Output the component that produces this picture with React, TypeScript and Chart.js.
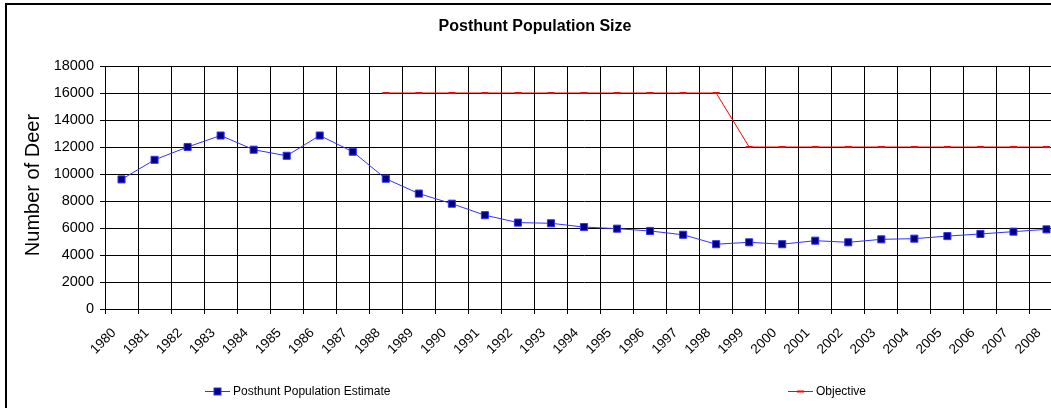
import React, { useEffect, useRef } from 'react';
import { Chart, registerables } from 'chart.js';

Chart.register(...registerables);

const chartTitle = 'Posthunt Population Size';
const yAxisTitle = 'Number of Deer';
const years = [
  '1980', '1981', '1982', '1983', '1984', '1985', '1986', '1987', '1988', '1989',
  '1990', '1991', '1992', '1993', '1994', '1995', '1996', '1997', '1998', '1999',
  '2000', '2001', '2002', '2003', '2004', '2005', '2006', '2007', '2008',
];
const populationLabel = 'Posthunt Population Estimate';
const population = [
  9600, 11050, 12000, 12850, 11800, 11350, 12850, 11650, 9650, 8550,
  7800, 6950, 6400, 6350, 6070, 5950, 5780, 5500, 4800, 4940,
  4800, 5060, 4940, 5160, 5210, 5400, 5560, 5730, 5900,
];
const objectiveLabel = 'Objective';
const objective: (number | null)[] = [
  null, null, null, null, null, null, null, null, 16000, 16000,
  16000, 16000, 16000, 16000, 16000, 16000, 16000, 16000, 16000, 12000,
  12000, 12000, 12000, 12000, 12000, 12000, 12000, 12000, 12000,
];
const yTicks = [0, 2000, 4000, 6000, 8000, 10000, 12000, 14000, 16000, 18000];

const BLUE = '#3333ff';
const NAVY = '#000080';
const RED = '#ff0000';
const FONT = 'Arial, "Liberation Sans", sans-serif';

export default function App() {
  const ref = useRef<HTMLCanvasElement>(null);

  useEffect(() => {
    const canvas = ref.current;
    if (!canvas) return;

    const decor = {
      id: 'decor',
      beforeDraw(chart: any) {
        const ctx = chart.ctx;
        ctx.save();
        ctx.fillStyle = '#ffffff';
        ctx.fillRect(0, 0, chart.width, chart.height);
        ctx.restore();
      },
      afterDraw(chart: any) {
        const ctx = chart.ctx;
        ctx.save();
        // frame
        ctx.strokeStyle = '#000';
        ctx.lineWidth = 2;
        ctx.strokeRect(6, 4, chart.width + 20, chart.height + 20);
        // title
        ctx.fillStyle = '#000';
        ctx.font = `bold 16px ${FONT}`;
        ctx.textAlign = 'center';
        ctx.textBaseline = 'middle';
        ctx.fillText(chartTitle, 535, 27);
        // y-axis title
        ctx.save();
        ctx.translate(33, 185);
        ctx.rotate(-Math.PI / 2);
        ctx.font = `20px ${FONT}`;
        ctx.fillText(yAxisTitle, 0, 0);
        ctx.restore();
        // legend
        const ly = 391.5;
        ctx.font = `12px ${FONT}`;
        ctx.textAlign = 'left';
        ctx.textBaseline = 'middle';
        // item 1
        ctx.strokeStyle = BLUE;
        ctx.lineWidth = 1;
        ctx.beginPath();
        ctx.moveTo(205, ly);
        ctx.lineTo(230, ly);
        ctx.stroke();
        ctx.fillStyle = NAVY;
        ctx.fillRect(214, ly - 3.5, 7, 7);
        ctx.strokeRect(214, ly - 3.5, 7, 7);
        ctx.fillStyle = '#000';
        ctx.fillText(populationLabel, 233, ly);
        // item 2
        ctx.strokeStyle = RED;
        ctx.beginPath();
        ctx.moveTo(788, ly);
        ctx.lineTo(813, ly);
        ctx.stroke();
        ctx.lineWidth = 2;
        ctx.beginPath();
        ctx.moveTo(797, ly);
        ctx.lineTo(804, ly);
        ctx.stroke();
        ctx.fillStyle = '#000';
        ctx.fillText(objectiveLabel, 816, ly);
        ctx.restore();
      },
    };

    const chart = new Chart(canvas, {
      type: 'line',
      data: {
        datasets: [
          {
            label: populationLabel,
            data: population.map((v, i) => ({ x: i + 0.5, y: v })),
            borderColor: BLUE,
            borderWidth: 1,
            pointStyle: 'rect',
            pointRadius: 5,
            pointBackgroundColor: NAVY,
            pointBorderColor: BLUE,
            pointBorderWidth: 1,
            tension: 0,
          },
          {
            label: objectiveLabel,
            data: objective.map((v, i) => ({ x: i + 0.5, y: v })),
            borderColor: RED,
            borderWidth: 1,
            pointStyle: 'line',
            pointRadius: 3.5,
            pointBorderColor: RED,
            pointBorderWidth: 2,
            spanGaps: false,
            tension: 0,
          },
        ],
      },
      options: {
        animation: false,
        responsive: false,
        events: [],
        layout: { padding: { left: 0, top: 66, right: 12, bottom: 0 } },
        plugins: {
          legend: { display: false },
          title: { display: false },
          tooltip: { enabled: false },
        },
        scales: {
          x: {
            type: 'linear',
            min: 0,
            max: years.length,
            afterFit: (s: any) => { s.height = 99; },
            afterBuildTicks: (s: any) => {
              s.ticks = years.map((_, i) => ({ value: i }));
            },
            grid: { color: '#000', lineWidth: 1, tickLength: 5, drawTicks: true },
            border: { color: '#000', width: 1 },
            ticks: {
              autoSkip: false,
              minRotation: 45,
              maxRotation: 45,
              labelOffset: 9,
              padding: 11,
              color: '#000',
              font: { family: FONT, size: 13.5 },
              callback: (v: any) => years[v as number] ?? '',
            },
          },
          y: {
            type: 'linear',
            min: 0,
            max: 18000,
            afterFit: (s: any) => { s.width = 105; },
            afterBuildTicks: (s: any) => {
              s.ticks = yTicks.map((v) => ({ value: v }));
            },
            grid: { color: '#000', lineWidth: 1, tickLength: 5 },
            border: { color: '#000', width: 1 },
            ticks: {
              padding: 6,
              color: '#000',
              font: { family: FONT, size: 14.5 },
              callback: (v: any) => String(v),
            },
          },
        },
      },
      plugins: [decor],
    });

    return () => chart.destroy();
  }, []);

  return (
    <div
      style={{
        position: 'fixed',
        left: 0,
        top: 0,
        width: 1051,
        height: 408,
        overflow: 'hidden',
        background: '#fff',
      }}
    >
      <canvas ref={ref} width={1075} height={408} style={{ display: 'block' }} />
    </div>
  );
}
